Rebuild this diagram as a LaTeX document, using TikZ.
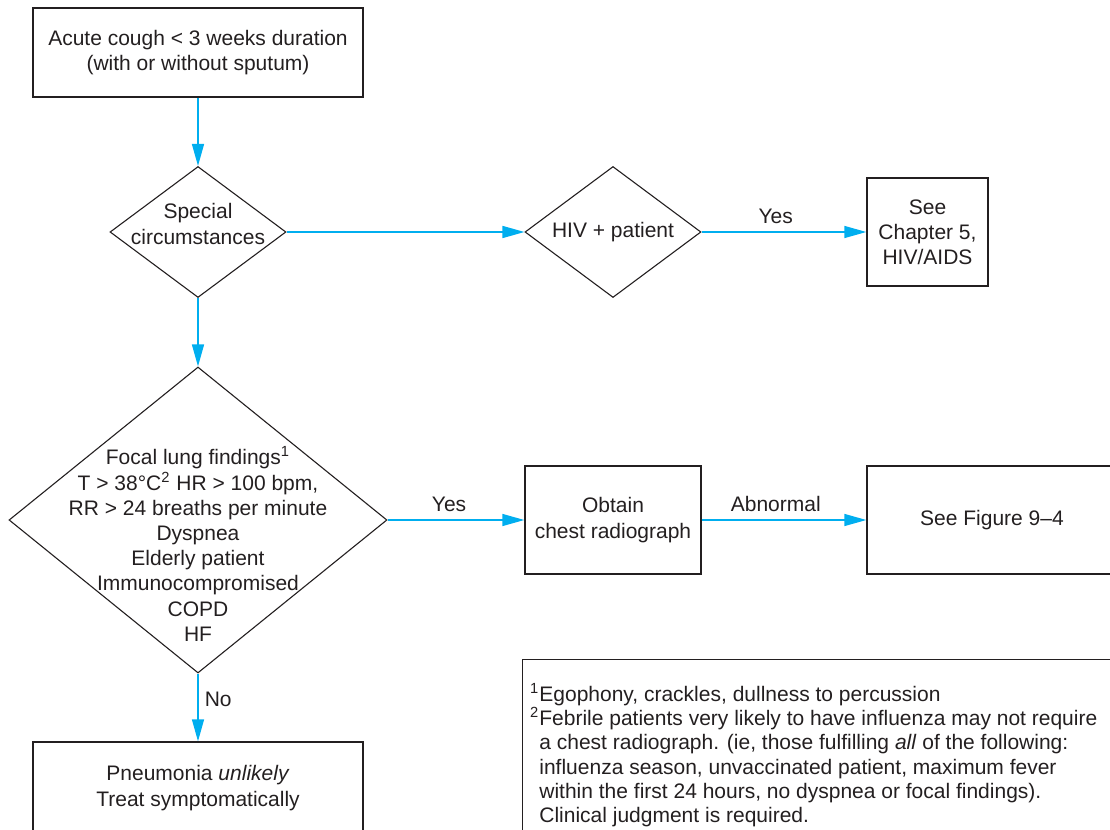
\documentclass[tikz,border=0pt]{standalone}
\usepackage{fontspec}
\setmainfont{Liberation Sans}
\usetikzlibrary{shapes.geometric,arrows.meta}

\definecolor{flowcyan}{RGB}{0,174,239}
\definecolor{inkgray}{RGB}{35,31,32}

\tikzset{
  block/.style={draw=inkgray, line width=0.7pt, text=inkgray, align=center, inner sep=0pt},
  decision/.style={diamond, draw=inkgray, line width=0.55pt, inner sep=0pt},
  flow/.style={draw=flowcyan, line width=0.75pt, -{Triangle[length=11pt,width=6pt]}},
  tag/.style={text=inkgray, inner sep=0pt, above=4pt, pos=0.45},
}

\begin{document}
\begin{tikzpicture}[x=0.5pt,y=-0.5pt,font=\fontsize{10.5}{12.6}\selectfont]%,1 unit = 1 px

\clip (0,0) rectangle (1110,830);

% left column
\node[block, minimum width=165pt, minimum height=44.5pt] (cough) at (198,52.5)
  {Acute cough < 3 weeks duration\\(with or without sputum)};
\node[decision, minimum width=88pt, minimum height=65.5pt,
  label={[text=inkgray,align=center,yshift=4pt]center:Special\\circumstances}] (special) at (198,232) {};
\node[decision, minimum width=189pt, minimum height=153pt,
  label={[text=inkgray,align=center,yshift=-12pt]center:Focal lung findings\textsuperscript{1}\\
    T > 38\textdegree C\textsuperscript{2} HR > 100 bpm,\\RR > 24 breaths per minute\\Dyspnea\\
    Elderly patient\\Immunocompromised\\COPD\\HF}] (focal) at (198,520) {};
\node[block, minimum width=165pt, minimum height=46pt] (pneu) at (198,788)
  {Pneumonia \textit{unlikely}\\Treat symptomatically};

% right side
\node[decision, minimum width=88pt, minimum height=65.5pt,
  label={[text=inkgray]center:HIV + patient}] (hiv) at (613,232) {};
\node[block, minimum width=60.5pt, minimum height=54pt] (chapter) at (927.5,232)
  {See\\Chapter 5,\\HIV/AIDS};
\node[block, minimum width=88pt, minimum height=54pt] (xray) at (613,520)
  {Obtain\\chest radiograph};
\node[block, minimum width=125pt, minimum height=54pt] (fig) at (992,520) {See Figure 9–4};

% footnotes
\node[block, anchor=north west, minimum width=300pt, minimum height=95pt] (notes) at (522,659) {};
\node[text=inkgray, anchor=north west, align=left, inner sep=0pt,
  font=\fontsize{10.5}{12.1}\selectfont] (notetext) at (539,683)
  {\llap{\textsuperscript{1}}Egophony, crackles, dullness to percussion\\
   \llap{\textsuperscript{2}}Febrile patients very likely to have influenza may not require\\
   a chest radiograph. (ie, those fulfilling \textit{all} of the following:\\
   influenza season, unvaccinated patient, maximum fever\\
   within the first 24 hours, no dyspnea or focal findings).\\
   Clinical judgment is required.};

% connectors
\draw[flow] (cough) -- (special);
\draw[flow] (special) -- (hiv);
\draw[flow] (hiv) -- node[tag] {Yes} (chapter);
\draw[flow] (special) -- (focal);
\draw[flow] (focal) -- node[tag] {Yes} (xray);
\draw[flow] (xray) -- node[tag] {Abnormal} (fig);
\draw[flow] (focal) -- node[text=inkgray, inner sep=0pt, right=3pt, pos=0.38] {No} (pneu);

\end{tikzpicture}
\end{document}
